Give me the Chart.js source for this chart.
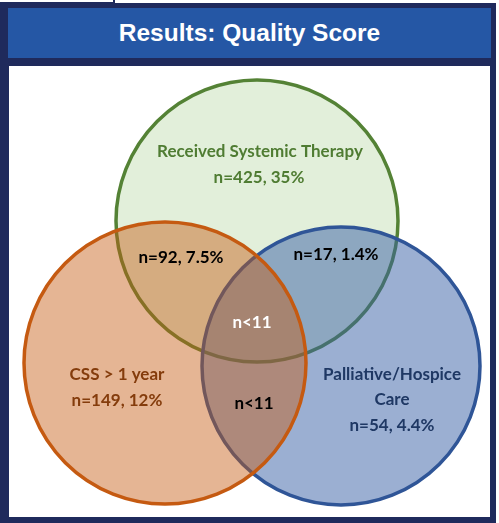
<!DOCTYPE html>
<html>
<head>
<meta charset="utf-8">
<script src="https://cdn.jsdelivr.net/npm/chart.js@4/dist/chart.umd.min.js"></script>
<style>
  html, body { margin: 0; padding: 0; background: #fff; }
  body { width: 499px; height: 523px; position: relative; overflow: hidden; }
  #frame { position: absolute; left: 0; top: 3px; width: 496px; height: 520px; background: #1f2a5c; }
  #tab { position: absolute; left: 0; top: 0; width: 113px; height: 2px; border-bottom: 1px solid #1f2a5c; border-right: 2px solid #1f2a5c; background: #fff; }
  #header {
    position: absolute; left: 8px; top: 8px; width: 483px; height: 50px; background: #2557a5;
    color: #fff; font: bold 24.5px "Liberation Sans", Arial, sans-serif;
    text-align: center; line-height: 50px;
  }
  #panel { position: absolute; left: 9px; top: 66px; width: 481px; height: 451px; background: #fff; }
  canvas { display: block; }
</style>
</head>
<body>
<div id="frame"></div>
<div id="tab"></div>
<div id="header">Results: Quality Score</div>
<div id="panel"><canvas id="venn" width="481" height="451"></canvas></div>
<script>
// sets, drawn bottom to top
const setNames = [['Received Systemic Therapy'], ['Palliative/Hospice', 'Care'], ['CSS > 1 year']];
const setX = [248, 332, 156];
const setY = [155, 300, 297];
const setR = [141, 139, 141];
const setFill = ['rgb(226,239,218)', 'rgba(55,95,165,0.5)', 'rgba(197,90,17,0.45)'];
const setBorder = ['#548235', '#2f5597', '#c55a11'];
const setText = ['#4f7c32', '#1f3864', '#843c0c'];

// region counts and percents
const regions = ['Therapy only', 'Therapy & CSS', 'Therapy & Palliative', 'All three', 'CSS only', 'CSS & Palliative', 'Palliative only'];
const regionN = ['425', '92', '17', '<11', '149', '<11', '54'];
const regionPct = [35, 7.5, 1.4, null, 12, null, 4.4];

// where each region label sits
const labelX = [250, 172, 327, 243, 108, 245, 383];
const labelY = [112, 192, 189, 257, 335, 338, 360];
const labelColor = ['#4f7c32', '#000', '#000', '#fff', '#843c0c', '#000', '#1f3864'];

function fmt(i) {
  const n = regionN[i];
  let s = n.startsWith('<') ? 'n' + n : 'n=' + n;
  if (regionPct[i] != null) s += ', ' + regionPct[i] + '%';
  return s;
}

const nameY = [[86], [309, 334], [309]];
const nameX = [251, 383, 108];

const vennLabels = {
  id: 'vennLabels',
  afterDatasetsDraw(chart) {
    const { ctx, scales: { x, y } } = chart;
    ctx.save();
    ctx.font = 'bold 17px Lato, "Open Sans", sans-serif';
    ctx.textAlign = 'center';
    ctx.textBaseline = 'middle';
    setNames.forEach((lines, i) => {
      ctx.fillStyle = setText[i];
      lines.forEach((ln, j) => ctx.fillText(ln, x.getPixelForValue(nameX[i]), y.getPixelForValue(nameY[i][j])));
    });
    regions.forEach((r, i) => {
      ctx.fillStyle = labelColor[i];
      ctx.fillText(fmt(i), x.getPixelForValue(labelX[i]), y.getPixelForValue(labelY[i]));
    });
    ctx.restore();
  }
};

new Chart(document.getElementById('venn'), {
  type: 'scatter',
  data: {
    datasets: [{
      data: setX.map((v, i) => ({ x: v, y: setY[i] })),
      backgroundColor: setFill,
      borderColor: setBorder,
      borderWidth: 3.5,
      pointRadius: ctx => {
        const s = ctx.chart.scales.x;
        return s.getPixelForValue(setR[ctx.dataIndex]) - s.getPixelForValue(0);
      },
      clip: false
    }]
  },
  options: {
    responsive: false,
    animation: false,
    events: [],
    layout: { padding: 0 },
    scales: {
      x: { type: 'linear', min: 0, max: 481, display: false },
      y: { type: 'linear', min: 0, max: 451, reverse: true, display: false }
    },
    plugins: {
      legend: { display: false },
      tooltip: { enabled: false }
    }
  },
  plugins: [vennLabels]
});
</script>
</body>
</html>
